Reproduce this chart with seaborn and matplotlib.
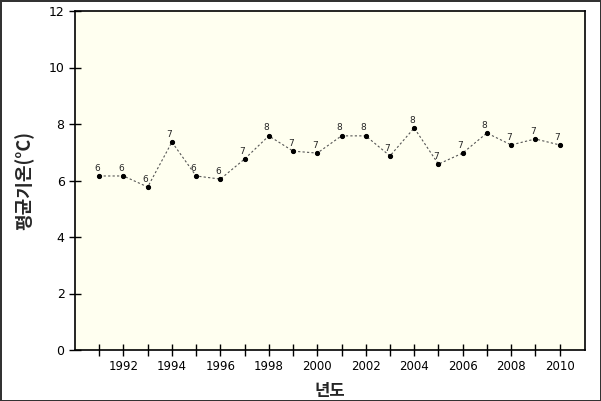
import numpy as np
import pandas as pd
import matplotlib
matplotlib.use('Agg')
import matplotlib.pyplot as plt
import seaborn as sns

years = list(range(1991, 2011))
temps = [6.16, 6.16, 5.77, 7.36, 6.16, 6.05, 6.76, 7.58, 7.04, 6.97,
         7.58, 7.58, 6.87, 7.86, 6.58, 6.97, 7.68, 7.26, 7.47, 7.26]
df = pd.DataFrame({'year': years, 'temp': temps})

sns.set_style('white')
plt.rcParams['font.family'] = ['DejaVu Sans', 'Noto Sans CJK KR']

fig = plt.figure(figsize=(6.01, 4.01), dpi=100)
fig.patch.set_edgecolor('#333333')
fig.patch.set_linewidth(2)
ax = fig.add_axes([75/601, 51/401, 510/601, 339/401])
ax.set_facecolor('#FFFFF0')

sns.lineplot(data=df, x='year', y='temp', ax=ax, color='#555555', linewidth=0.8,
             linestyle=(0, (2, 2)), marker='o', markersize=3,
             markerfacecolor='black', markeredgecolor='black')
for x, y in zip(years, temps):
    ax.text(x - 0.1, y + 0.12, f'{round(y)}', ha='center', va='bottom', fontsize=6.5)

ax.set_xlim(1990, 2011.05)
ax.set_ylim(0, 12)
ax.set_xticks(years)
ax.set_xticklabels([str(y) if y % 2 == 0 else '' for y in years], fontsize=8.5)
ax.set_yticks(range(0, 13, 2))
ax.set_yticklabels([str(v) for v in range(0, 13, 2)], fontsize=9)
ax.tick_params(direction='inout', length=8, width=1, colors='black', bottom=True, left=True)
for s in ax.spines.values():
    s.set_color('black')
    s.set_linewidth(1.2)
ax.set_xlabel('년도', fontsize=12, family=['Noto Sans CJK KR', 'DejaVu Sans'], fontweight='bold', labelpad=6)
ax.set_ylabel('평균기온(°C)', fontsize=13, family=['Noto Sans CJK KR', 'DejaVu Sans'], fontweight='bold', labelpad=10)
fig.savefig('out.png', dpi=100, edgecolor=fig.get_edgecolor())
